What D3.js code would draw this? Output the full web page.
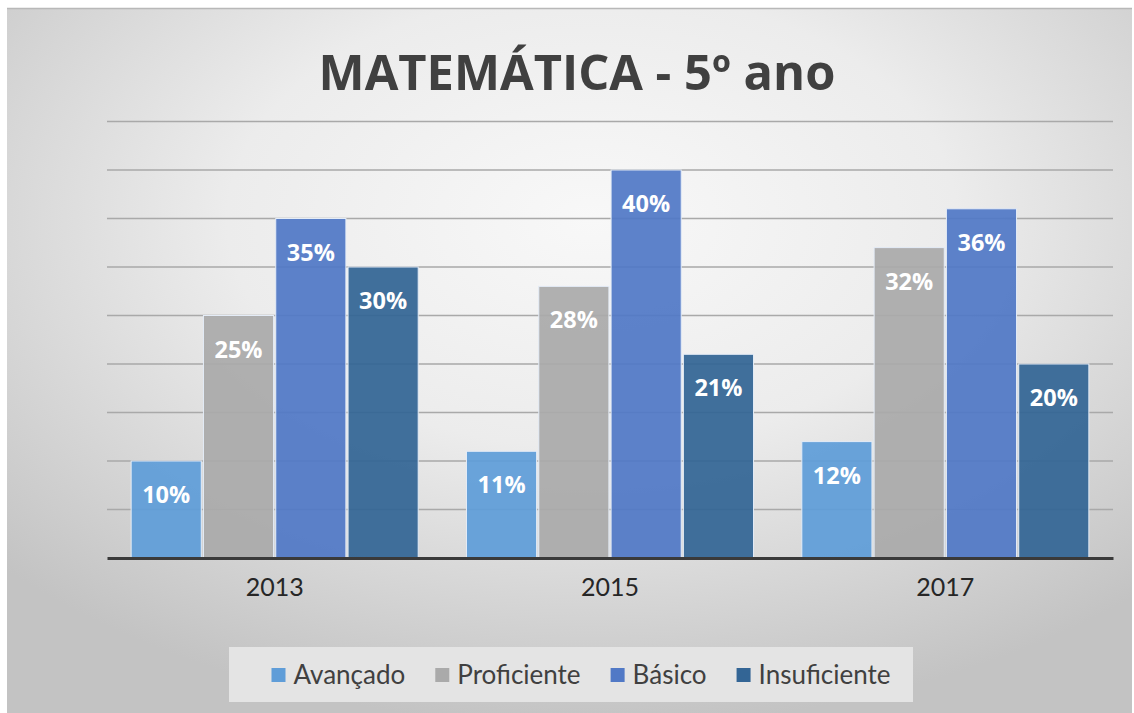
<!DOCTYPE html>
<html>
<head>
<meta charset="utf-8">
<script src="https://cdn.jsdelivr.net/npm/d3@7"></script>
<style>
  html, body { margin: 0; padding: 0; background: #ffffff; }
  svg { display: block; }
</style>
</head>
<body>
<div id="chart"></div>
<script>
const years = ["2013", "2015", "2017"];
const levels = ["Avançado", "Proficiente", "Básico", "Insuficiente"];
const avancado = [10, 11, 12];
const proficiente = [25, 28, 32];
const basico = [35, 40, 36];
const insuficiente = [30, 21, 20];
const gridTicks = [5, 10, 15, 20, 25, 30, 35, 40, 45];
const titleText = "MATEMÁTICA - 5º ano";

const seriesValues = {
    "Avançado": avancado,
    "Proficiente": proficiente,
    "Básico": basico,
    "Insuficiente": insuficiente
};

const colors = {
    "Avançado": "#5f9dd8",
    "Proficiente": "#aaaaaa",
    "Básico": "#5179c6",
    "Insuficiente": "#336595"
};

const W = 1134, H = 713;
const plot = { left: 107, right: 1113, top: 121.5, bottom: 558 };

const svg = d3.select("#chart")
    .append("svg")
    .attr("width", W)
    .attr("height", H);

// background gradient
const defs = svg.append("defs");
const grad = defs.append("radialGradient")
    .attr("id", "bg")
    .attr("cx", 0.52).attr("cy", 0.3).attr("r", 0.72);
grad.append("stop").attr("offset", "0%").attr("stop-color", "#f8f8f8");
grad.append("stop").attr("offset", "45%").attr("stop-color", "#ececec");
grad.append("stop").attr("offset", "100%").attr("stop-color", "#c3c3c3");

svg.append("rect")
    .attr("x", 7).attr("y", 8)
    .attr("width", 1125).attr("height", 705)
    .attr("fill", "url(#bg)");

svg.append("line")
    .attr("x1", 7).attr("x2", 1132)
    .attr("y1", 8.5).attr("y2", 8.5)
    .attr("stroke", "#b8b8b8")
    .attr("stroke-width", 1.5);

// scales
const x0 = d3.scaleBand()
    .domain(years)
    .range([plot.left, plot.right])
    .paddingInner(0.144)
    .paddingOuter(0.072);

const x1 = d3.scaleBand()
    .domain(levels)
    .range([0, x0.bandwidth()])
    .paddingInner(0.03)
    .paddingOuter(0);

const y = d3.scaleLinear()
    .domain([0, 45])
    .range([plot.bottom, plot.top]);

// gridlines
svg.append("g")
    .selectAll("line")
    .data(gridTicks)
    .enter()
    .append("line")
    .attr("x1", plot.left)
    .attr("x2", plot.right)
    .attr("y1", d => y(d))
    .attr("y2", d => y(d))
    .attr("stroke", "#a9a9a9")
    .attr("stroke-width", 1.6);

// bars
const groups = svg.selectAll(".year")
    .data(years)
    .enter()
    .append("g")
    .attr("class", "year")
    .attr("transform", d => `translate(${x0(d)},0)`);

groups.selectAll("rect")
    .data((d, i) => levels.map(k => ({ key: k, value: seriesValues[k][i] })))
    .enter()
    .append("rect")
    .attr("x", d => x1(d.key))
    .attr("y", d => y(d.value))
    .attr("width", x1.bandwidth())
    .attr("height", d => y(0) - y(d.value))
    .attr("fill", d => colors[d.key])
    .attr("fill-opacity", 0.93)
    .attr("stroke", "#e4ecf7")
    .attr("stroke-width", 1);

groups.selectAll("text")
    .data((d, i) => levels.map(k => ({ key: k, value: seriesValues[k][i] })))
    .enter()
    .append("text")
    .attr("x", d => x1(d.key) + x1.bandwidth() / 2)
    .attr("y", d => y(d.value) + 42)
    .attr("text-anchor", "middle")
    .style("font-family", "'Open Sans', sans-serif")
    .style("font-weight", "bold")
    .style("font-size", "23.5px")
    .attr("fill", "#ffffff")
    .text(d => d.value + "%");

// x axis
const xAxis = svg.append("g")
    .attr("transform", `translate(0,${plot.bottom})`)
    .call(d3.axisBottom(x0).tickSize(0).tickPadding(20));
xAxis.select(".domain")
    .attr("stroke", "#3a3a3a")
    .attr("stroke-width", 3);
xAxis.selectAll("text")
    .style("font-family", "Lato, sans-serif")
    .style("font-size", "25px")
    .attr("fill", "#262626");

// title
const title = svg.append("text")
    .attr("x", 577)
    .attr("y", 90)
    .attr("text-anchor", "middle")
    .style("font-family", "'Open Sans', sans-serif")
    .style("font-weight", "bold")
    .style("font-size", "50px")
    .attr("fill", "#404040")
    .text(titleText);
const tw = title.node().getComputedTextLength();
title.style("font-size", (50 * 517 / tw) + "px");

// legend
const legend = svg.append("g");
legend.append("rect")
    .attr("x", 229).attr("y", 647)
    .attr("width", 684).attr("height", 55)
    .attr("fill", "#e4e4e4");

const items = legend.selectAll(".item")
    .data(levels)
    .enter()
    .append("g")
    .attr("class", "item");

items.append("rect")
    .attr("width", 14)
    .attr("height", 14)
    .attr("y", 668)
    .attr("fill", d => colors[d]);

items.append("text")
    .attr("y", 684)
    .style("font-family", "Lato, sans-serif")
    .style("font-size", "26px")
    .attr("fill", "#404040")
    .text(d => d);

// lay out legend items from measured text widths
const widths = [];
items.selectAll("text").each(function () { widths.push(this.getComputedTextLength()); });
const gap = 30, sq = 14, sqGap = 8;
const total = d3.sum(widths) + levels.length * (sq + sqGap) + gap * (levels.length - 1);
let cx = 581 - total / 2;
items.each(function (d, i) {
    const g = d3.select(this);
    g.select("rect").attr("x", cx);
    g.select("text").attr("x", cx + sq + sqGap);
    cx += sq + sqGap + widths[i] + gap;
});
</script>
</body>
</html>
